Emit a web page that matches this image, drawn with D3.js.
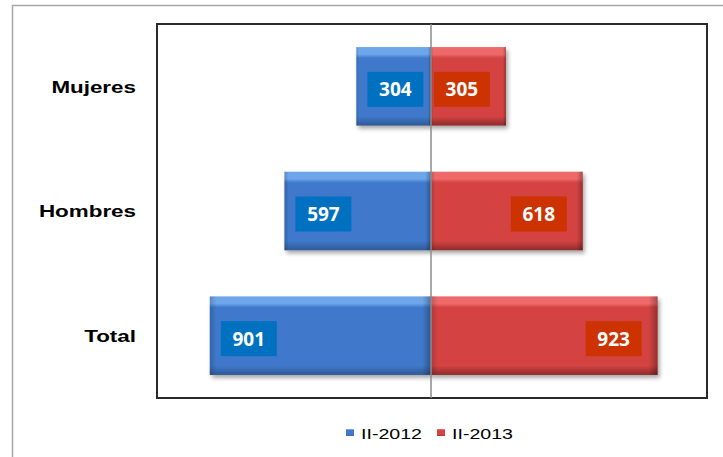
<!DOCTYPE html>
<html lang="es">
<head>
<meta charset="UTF-8">
<title>II-2012 vs II-2013</title>
<script src="https://d3js.org/d3.v7.min.js"></script>
<style>
    body { margin: 0; background: #fff; font-family: Arial, "Liberation Sans", sans-serif; }
    .cat text { font-size: 16px; font-weight: bold; fill: #000; }
    .val { font-family: "Open Sans", sans-serif; font-weight: bold; font-size: 19px; fill: #fff; }
    .legend text { font-size: 14px; fill: #000; }
</style>
</head>
<body>
<div id="chart"></div>
<script>
    // data
    const categories = ["Mujeres", "Hombres", "Total"];
    const series2012 = [304, 597, 901];
    const series2013 = [305, 618, 923];
    const seriesNames = ["II-2012", "II-2013"];

    const W = 723, H = 457;
    const plot = {left: 157, right: 707, top: 24, bottom: 398};
    const stretch = 1.4; // text in the original is stretched sideways

    const svg = d3.select("#chart").append("svg")
        .attr("width", W)
        .attr("height", H);

    const defs = svg.append("defs");

    // bar shading
    function barGrad(id, light, mid, dark) {
        const g = defs.append("linearGradient").attr("id", id)
            .attr("x1", 0).attr("y1", 0).attr("x2", 0).attr("y2", 1);
        g.append("stop").attr("offset", "0%").attr("stop-color", light);
        g.append("stop").attr("offset", "9%").attr("stop-color", light);
        g.append("stop").attr("offset", "14%").attr("stop-color", mid);
        g.append("stop").attr("offset", "88%").attr("stop-color", mid);
        g.append("stop").attr("offset", "100%").attr("stop-color", dark);
    }
    barGrad("gBlue", "#6ea6ea", "#4079cb", "#2f5996");
    barGrad("gRed", "#ee6a6a", "#d44343", "#8e2b2b");

    const edge = defs.append("linearGradient").attr("id", "gEdge")
        .attr("x1", 0).attr("y1", 0).attr("x2", 1).attr("y2", 0);
    edge.append("stop").attr("offset", "0%").attr("stop-color", "#000").attr("stop-opacity", 0.18);
    edge.append("stop").attr("offset", "3%").attr("stop-color", "#000").attr("stop-opacity", 0);
    edge.append("stop").attr("offset", "96%").attr("stop-color", "#000").attr("stop-opacity", 0);
    edge.append("stop").attr("offset", "100%").attr("stop-color", "#000").attr("stop-opacity", 0.3);

    const shadow = defs.append("filter").attr("id", "shadow")
        .attr("x", "-10%").attr("y", "-10%").attr("width", "130%").attr("height", "140%");
    shadow.append("feDropShadow").attr("dx", 2).attr("dy", 3)
        .attr("stdDeviation", 2).attr("flood-color", "#000").attr("flood-opacity", 0.35);

    // outer frame
    svg.append("rect")
        .attr("x", 12.5).attr("y", 5.5)
        .attr("width", W).attr("height", H)
        .attr("fill", "none")
        .attr("stroke", "#a6a6a6")
        .attr("stroke-width", 1.5);

    // plot frame
    svg.append("rect")
        .attr("x", plot.left).attr("y", plot.top)
        .attr("width", plot.right - plot.left)
        .attr("height", plot.bottom - plot.top)
        .attr("fill", "#fff")
        .attr("stroke", "#2a2a2a")
        .attr("stroke-width", 2);

    const x = d3.scaleLinear()
        .domain([-1116, 1124])
        .range([plot.left, plot.right]);

    const y = d3.scaleBand()
        .domain(categories)
        .range([plot.top, plot.bottom])
        .paddingInner(0.37)
        .paddingOuter(0.185);

    const rows = categories.map((c, i) => ({cat: c, a: series2012[i], b: series2013[i]}));

    const bars = svg.append("g");

    function drawBar(x0, x1, cat, grad) {
        const g = bars.append("g").attr("filter", "url(#shadow)");
        g.append("rect")
            .attr("x", x0).attr("y", y(cat))
            .attr("width", x1 - x0).attr("height", y.bandwidth())
            .attr("fill", `url(#${grad})`);
        g.append("rect")
            .attr("x", x0).attr("y", y(cat))
            .attr("width", x1 - x0).attr("height", y.bandwidth())
            .attr("fill", "url(#gEdge)");
    }

    rows.forEach(d => {
        drawBar(x(-d.a), x(0), d.cat, "gBlue");
        drawBar(x(0), x(d.b), d.cat, "gRed");
    });

    // center line
    svg.append("line")
        .attr("x1", x(0)).attr("x2", x(0))
        .attr("y1", plot.top).attr("y2", plot.bottom)
        .attr("stroke", "#8c8c8c")
        .attr("stroke-width", 1.5);

    // value labels
    const boxW = 56, boxH = 35;
    function valueLabel(cx, cy, v, fill) {
        svg.append("rect")
            .attr("x", cx - boxW / 2).attr("y", cy - boxH / 2)
            .attr("width", boxW).attr("height", boxH)
            .attr("fill", fill);
        svg.append("text")
            .attr("class", "val")
            .attr("x", cx).attr("y", cy)
            .attr("dy", "0.36em")
            .attr("text-anchor", "middle")
            .text(v);
    }

    rows.forEach(d => {
        const cy = y(d.cat) + y.bandwidth() / 2 + 3;
        valueLabel(x(-d.a) + 39, cy, d.a, "#0070c0");
        valueLabel(x(d.b) - 44, cy, d.b, "#cc3300");
    });

    // category axis
    const axis = svg.append("g")
        .attr("class", "cat")
        .attr("transform", `translate(${plot.left},0)`)
        .call(d3.axisLeft(y).tickSize(0).tickPadding(0));
    axis.select(".domain").remove();
    axis.selectAll("text")
        .attr("x", 0)
        .attr("dy", "0.4em")
        .attr("font-family", "Arial, 'Liberation Sans', sans-serif")
        .attr("font-size", 16)
        .attr("transform", `translate(-21,0) scale(${stretch},1)`);

    // legend
    const legend = svg.append("g").attr("class", "legend");
    const legendItems = [
        {name: seriesNames[0], grad: "gBlue", x: 346},
        {name: seriesNames[1], grad: "gRed", x: 437}
    ];
    legendItems.forEach(it => {
        legend.append("rect")
            .attr("x", it.x).attr("y", 429)
            .attr("width", 8).attr("height", 7)
            .attr("fill", `url(#${it.grad})`);
        legend.append("text")
            .attr("transform", `translate(${it.x + 15},439) scale(${stretch},1)`)
            .text(it.name);
    });
</script>
</body>
</html>
